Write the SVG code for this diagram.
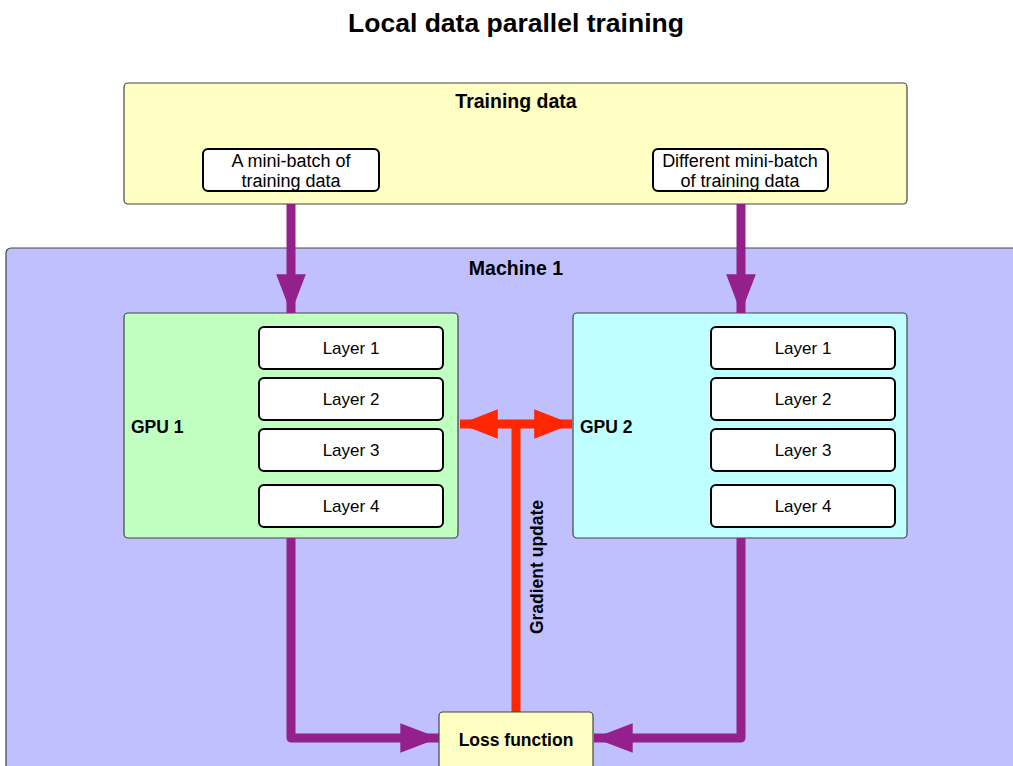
<svg xmlns="http://www.w3.org/2000/svg" width="1013" height="766" viewBox="0 0 1013 766">
  <defs>
    <style>
      text { font-family: "Liberation Sans", Arial, sans-serif; fill: #000; }
      .title { font-size: 26.5px; font-weight: bold; text-anchor: middle; }
      .head { font-size: 19.5px; font-weight: bold; text-anchor: middle; }
      .lbl { font-size: 17px; text-anchor: middle; }
      .mb { font-size: 18px; text-anchor: middle; }
      .bold { font-size: 17.5px; font-weight: bold; }
      .panel { stroke: #444; stroke-width: 1.2; }
      .box { fill: #fff; stroke: #000; stroke-width: 2; }
      .flow { fill: none; stroke: #93208D; stroke-width: 9; stroke-linejoin: round; }
      .grad { fill: none; stroke: #FF2600; stroke-width: 9; }
    </style>
    <marker id="headPurple" viewBox="0 0 10 10" refX="10" refY="5" markerWidth="4.3" markerHeight="3.3" markerUnits="strokeWidth" preserveAspectRatio="none" orient="auto">
      <path d="M0,0 L10,5 L0,10 Z" fill="#93208D"/>
    </marker>
    <marker id="headRed" viewBox="0 0 10 10" refX="10" refY="5" markerWidth="4.2" markerHeight="3.3" markerUnits="strokeWidth" preserveAspectRatio="none" orient="auto-start-reverse">
      <path d="M0,0 L10,5 L0,10 Z" fill="#FF2600"/>
    </marker>
  </defs>

  <rect width="1013" height="766" fill="#fff"/>
  <text class="title" x="516" y="32">Local data parallel training</text>

  <g id="training-data">
    <rect class="panel" x="124" y="83" width="783" height="121" rx="4" fill="#FFFFC4"/>
    <text class="head" x="516" y="108">Training data</text>
  </g>
  <g id="batch-1">
    <rect class="box" x="203" y="149" width="176" height="42" rx="5"/>
    <text class="mb" x="291" y="167">A mini-batch of</text>
    <text class="mb" x="291" y="187">training data</text>
  </g>
  <g id="batch-2">
    <rect class="box" x="653" y="149" width="175" height="42" rx="5"/>
    <text class="mb" x="740" y="167">Different mini-batch</text>
    <text class="mb" x="740" y="187">of training data</text>
  </g>

  <g id="machine-1">
    <rect class="panel" x="6" y="248" width="1020" height="530" rx="5" fill="#C0C0FF"/>
    <text class="head" x="516" y="275">Machine 1</text>
  </g>

  <g id="gpu-1">
    <rect class="panel" x="124" y="313" width="334" height="225" rx="4" fill="#C0FFC0"/>
    <text class="bold" x="131" y="433">GPU 1</text>
    <rect class="box" x="259" y="327" width="184" height="42" rx="5"/>
    <text class="lbl" x="351" y="354">Layer 1</text>
    <rect class="box" x="259" y="378" width="184" height="42" rx="5"/>
    <text class="lbl" x="351" y="405">Layer 2</text>
    <rect class="box" x="259" y="429" width="184" height="42" rx="5"/>
    <text class="lbl" x="351" y="456">Layer 3</text>
    <rect class="box" x="259" y="485" width="184" height="42" rx="5"/>
    <text class="lbl" x="351" y="512">Layer 4</text>
  </g>

  <g id="gpu-2">
    <rect class="panel" x="573" y="313" width="334" height="225" rx="4" fill="#C0FFFF"/>
    <text class="bold" x="580" y="433">GPU 2</text>
    <rect class="box" x="711" y="327" width="184" height="42" rx="5"/>
    <text class="lbl" x="803" y="354">Layer 1</text>
    <rect class="box" x="711" y="378" width="184" height="42" rx="5"/>
    <text class="lbl" x="803" y="405">Layer 2</text>
    <rect class="box" x="711" y="429" width="184" height="42" rx="5"/>
    <text class="lbl" x="803" y="456">Layer 3</text>
    <rect class="box" x="711" y="485" width="184" height="42" rx="5"/>
    <text class="lbl" x="803" y="512">Layer 4</text>
  </g>

  <g id="connectors">
    <path class="flow" d="M291,204 V313" marker-end="url(#headPurple)"/>
    <path class="flow" d="M741,204 V313" marker-end="url(#headPurple)"/>
    <path class="flow" d="M291,538 V738 H439" marker-end="url(#headPurple)"/>
    <path class="flow" d="M741,538 V738 H594" marker-end="url(#headPurple)"/>
    <path class="grad" d="M516,712 V424"/>
    <path class="grad" d="M460,424 H572" marker-start="url(#headRed)" marker-end="url(#headRed)"/>
    <text class="bold" transform="translate(543,567) rotate(-90)" text-anchor="middle">Gradient update</text>
  </g>

  <g id="loss-function">
    <rect class="panel" x="439" y="712" width="154" height="60" rx="4" fill="#FFFFC4"/>
    <text class="bold" x="516" y="746" text-anchor="middle">Loss function</text>
  </g>
</svg>
